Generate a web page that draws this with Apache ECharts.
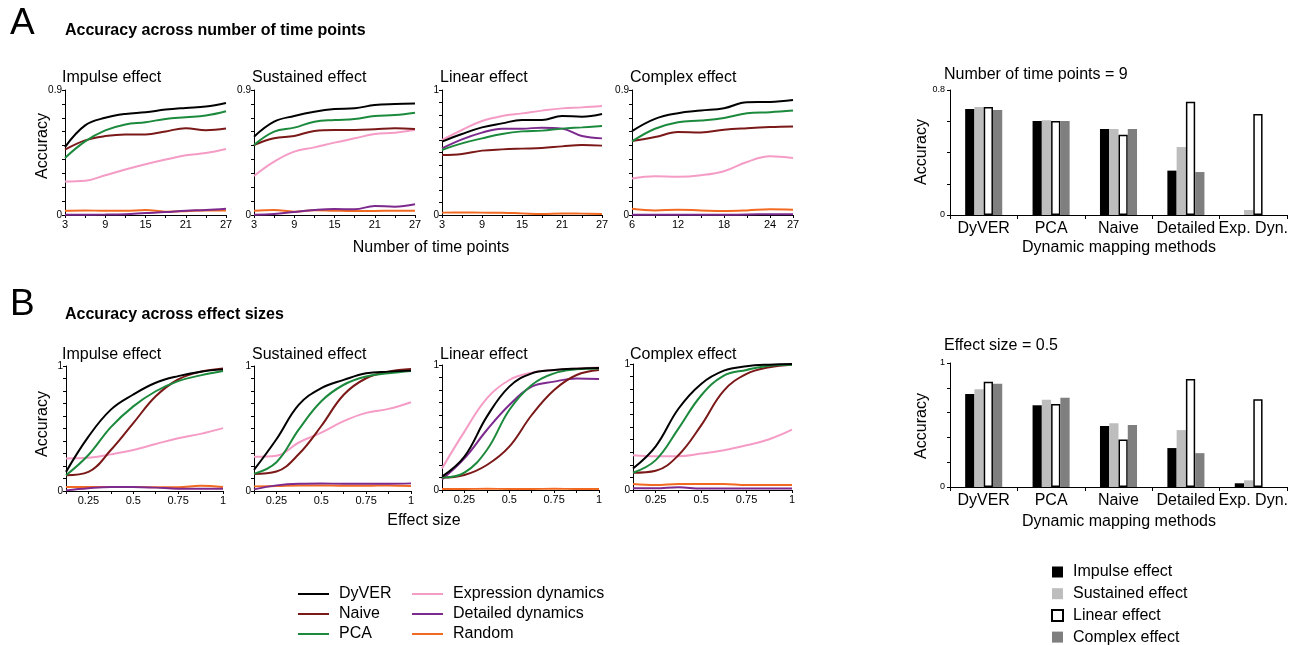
<!DOCTYPE html>
<html><head><meta charset="utf-8">
<script src="https://cdn.jsdelivr.net/npm/echarts@6/dist/echarts.min.js"></script>
<style>html,body{margin:0;padding:0;background:#fff}#c{width:1302px;height:645px}</style>
</head><body><div id="c"></div>
<script>
const FONT = 'Liberation Sans, Arial, Helvetica, sans-serif';
const methods = ['DyVER','Naive','PCA','Expression dynamics','Detailed dynamics','Random'];
const methodColors = ['#000000','#7b1818','#1c8a3d','#f59cc6','#7d2a8e','#f26a21'];

// x values
const tpX = [3,6,9,12,15,18,21,24,27];
const tpXComplex = [6,9,12,15,18,21,24,27];
const esX = [0.125,0.25,0.375,0.5,0.625,0.75,0.875,1];

// tick / label values
const tpTicks = [3,6,9,12,15,18,21,24,27];
const tpLabels = [3,9,15,21,27];
const tpComplexLabels = [6,12,18,24,27];
const esLabels = [0.25,0.5,0.75,1];

// Panel A: accuracy vs number of time points (rows: DyVER, Naive, PCA, Expr dyn, Detailed dyn, Random)
const tpImpulse = [
  [0.489,0.645,0.700,0.728,0.740,0.759,0.771,0.781,0.807],
  [0.470,0.537,0.568,0.580,0.580,0.602,0.625,0.611,0.623],
  [0.411,0.530,0.609,0.652,0.668,0.692,0.704,0.716,0.747],
  [0.241,0.246,0.286,0.327,0.365,0.399,0.430,0.446,0.475],
  [0.002,0.002,0.003,0.006,0.014,0.021,0.031,0.036,0.045],
  [0.031,0.033,0.030,0.030,0.036,0.024,0.027,0.033,0.033]
];
const tpSustained = [
  [0.564,0.672,0.713,0.744,0.763,0.768,0.792,0.799,0.802],
  [0.504,0.552,0.569,0.605,0.612,0.612,0.617,0.624,0.619],
  [0.504,0.600,0.629,0.672,0.684,0.691,0.713,0.720,0.737],
  [0.281,0.384,0.456,0.487,0.521,0.552,0.583,0.593,0.612],
  [0.002,0.007,0.022,0.036,0.043,0.041,0.065,0.060,0.077],
  [0.031,0.036,0.024,0.034,0.031,0.029,0.029,0.031,0.031]
];
const tpLinear = [
  [0.587,0.648,0.701,0.733,0.760,0.760,0.792,0.787,0.808],
  [0.480,0.488,0.515,0.525,0.531,0.536,0.549,0.560,0.555],
  [0.520,0.573,0.613,0.648,0.669,0.675,0.691,0.701,0.712],
  [0.600,0.680,0.752,0.792,0.813,0.835,0.853,0.861,0.872],
  [0.533,0.605,0.659,0.691,0.691,0.699,0.691,0.632,0.613],
  [0.019,0.020,0.019,0.018,0.013,0.008,0.013,0.011,0.008]
];
const tpComplex = [
  [0.604,0.692,0.733,0.752,0.769,0.812,0.814,0.828],
  [0.532,0.561,0.597,0.594,0.614,0.625,0.633,0.637],
  [0.530,0.621,0.668,0.680,0.699,0.733,0.740,0.752],
  [0.263,0.279,0.275,0.286,0.315,0.382,0.423,0.411],
  [0.001,0.001,0.001,0.001,0.001,0.004,0.005,0.005],
  [0.045,0.033,0.038,0.033,0.029,0.033,0.041,0.038]
];

// Panel B: accuracy vs effect size
const esImpulse = [
  [0.153,0.435,0.651,0.772,0.866,0.919,0.954,0.973],
  [0.126,0.153,0.328,0.543,0.758,0.892,0.954,0.981],
  [0.126,0.288,0.511,0.677,0.798,0.879,0.925,0.960],
  [0.261,0.266,0.293,0.328,0.376,0.422,0.457,0.503],
  [0.005,0.022,0.032,0.032,0.027,0.019,0.019,0.019],
  [0.032,0.032,0.032,0.032,0.030,0.030,0.043,0.032]
];
const esSustained = [
  [0.169,0.414,0.691,0.823,0.889,0.942,0.955,0.963],
  [0.137,0.156,0.296,0.520,0.770,0.902,0.955,0.976],
  [0.137,0.230,0.493,0.718,0.850,0.916,0.942,0.960],
  [0.274,0.282,0.388,0.467,0.559,0.625,0.657,0.710],
  [0.013,0.045,0.058,0.060,0.058,0.058,0.058,0.061],
  [0.037,0.040,0.045,0.045,0.042,0.042,0.045,0.040]
];
const esLinear = [
  [0.107,0.267,0.587,0.827,0.933,0.960,0.971,0.976],
  [0.099,0.120,0.200,0.347,0.600,0.800,0.920,0.960],
  [0.099,0.139,0.320,0.640,0.840,0.933,0.965,0.973],
  [0.173,0.467,0.733,0.880,0.939,0.960,0.973,0.981],
  [0.085,0.253,0.480,0.680,0.827,0.867,0.893,0.888],
  [0.008,0.008,0.010,0.008,0.008,0.010,0.008,0.008]
];
const esComplex = [
  [0.171,0.347,0.645,0.842,0.947,0.982,0.995,1.000],
  [0.137,0.153,0.276,0.513,0.789,0.921,0.974,0.995],
  [0.137,0.237,0.487,0.750,0.908,0.953,0.987,0.995],
  [0.276,0.268,0.268,0.289,0.316,0.355,0.403,0.479],
  [0.013,0.013,0.021,0.011,0.011,0.011,0.011,0.011],
  [0.047,0.039,0.047,0.047,0.047,0.039,0.039,0.039]
];

// Bar charts
const barMethods = ['DyVER','PCA','Naive','Detailed','Exp. Dyn.'];
const effects = ['Impulse effect','Sustained effect','Linear effect','Complex effect'];
const barTP_Impulse   = [0.678,0.602,0.550,0.284,0];
const barTP_Sustained = [0.691,0.606,0.550,0.435,0.032];
const barTP_Linear    = [0.691,0.602,0.514,0.725,0.646];
const barTP_Complex   = [0.672,0.602,0.550,0.275,0];
const barES_Impulse   = [0.751,0.659,0.492,0.314,0.030];
const barES_Sustained = [0.789,0.703,0.514,0.459,0.054];
const barES_Linear    = [0.849,0.670,0.384,0.870,0.708];
const barES_Complex   = [0.832,0.719,0.500,0.273,0];

const panelTitles = ['Impulse effect','Sustained effect','Linear effect','Complex effect'];

const linePanels = [
  {x: tpX, d: tpImpulse, xmin:3, xmax:27, ticks: tpTicks, labels: tpLabels, ymax:0.9, g:{left:65, top:90, width:161, height:125}},
  {x: tpX, d: tpSustained, xmin:3, xmax:27, ticks: tpTicks, labels: tpLabels, ymax:0.9, g:{left:254, top:90, width:161, height:125}},
  {x: tpX, d: tpLinear, xmin:3, xmax:27, ticks: tpTicks, labels: tpLabels, ymax:1, g:{left:442, top:90, width:160, height:125}},
  {x: tpXComplex, d: tpComplex, xmin:6, xmax:27, ticks: tpXComplex, labels: tpComplexLabels, ymax:0.9, g:{left:632, top:90, width:161, height:125}},
  {x: esX, d: esImpulse, xmin:0.125, xmax:1, ticks: esX, labels: esLabels, ymax:1, g:{left:66, top:366, width:157, height:125}},
  {x: esX, d: esSustained, xmin:0.125, xmax:1, ticks: esX, labels: esLabels, ymax:1, g:{left:254, top:366, width:157, height:125}},
  {x: esX, d: esLinear, xmin:0.125, xmax:1, ticks: esX, labels: esLabels, ymax:1, g:{left:442, top:365, width:157, height:125}},
  {x: esX, d: esComplex, xmin:0.125, xmax:1, ticks: esX, labels: esLabels, ymax:1, g:{left:633, top:364, width:159, height:126}}
];

const grids = [], xAxes = [], yAxes = [], series = [];
const axisLine = {show:true, lineStyle:{color:'#000', width:1}};
linePanels.forEach((p, i) => {
  grids.push(Object.assign({containLabel:false}, p.g));
  xAxes.push({
    type:'value', gridIndex:i, min:p.xmin, max:p.xmax,
    axisLine, splitLine:{show:false},
    axisTick:{show:true, length:3, customValues:p.ticks, lineStyle:{color:'#000'}},
    axisLabel:{customValues:p.labels, fontSize:11, color:'#000', fontFamily:FONT, margin:4}
  });
  const yt = []; for (let k=0; k<=Math.round(p.ymax*10); k++) yt.push(k/10);
  yAxes.push({
    type:'value', gridIndex:i, min:0, max:p.ymax,
    axisLine, splitLine:{show:false},
    axisTick:{show:true, length:3, customValues:yt, lineStyle:{color:'#000'}},
    axisLabel:{customValues:[0,p.ymax], fontSize:10, color:'#000', fontFamily:FONT, margin:3}
  });
  const order = [5,4,3,1,2,0];
  order.forEach(m => {
    series.push({
      type:'line', name:methods[m], xAxisIndex:i, yAxisIndex:i,
      data:p.x.map((xx,k)=>[xx, p.d[m][k]]),
      smooth:0.4, showSymbol:false, symbol:'none',
      lineStyle:{width:2, color:methodColors[m]}, itemStyle:{color:methodColors[m]},
      z: 2, silent:true, animation:false
    });
  });
});

const barEffectStyles = [
  {color:'#000000'},
  {color:'#bdbdbd'},
  {color:'#ffffff', borderColor:'#000000', borderWidth:1.5},
  {color:'#7f7f7f'}
];
const barPanels = [
  {vals:[barTP_Impulse,barTP_Sustained,barTP_Linear,barTP_Complex], ymax:0.8, g:{left:950, top:90, width:337, height:125}},
  {vals:[barES_Impulse,barES_Sustained,barES_Linear,barES_Complex], ymax:1, g:{left:950, top:363, width:337, height:124}}
];
barPanels.forEach((p, j) => {
  const gi = grids.length;
  grids.push(p.g);
  xAxes.push({
    type:'category', gridIndex:gi, data:barMethods,
    axisLine, axisTick:{show:true, length:4, lineStyle:{color:'#000'}},
    axisLabel:{fontSize:16, color:'#000', fontFamily:FONT, margin:6, interval:0}
  });
  yAxes.push({
    type:'value', gridIndex:gi, min:0, max:p.ymax, interval:0.2,
    axisLine, splitLine:{show:false},
    axisTick:{show:true, length:3, lineStyle:{color:'#000'}},
    axisLabel:{customValues:[0,p.ymax], fontSize:9, color:'#000', fontFamily:FONT, margin:5}
  });
  effects.forEach((e, k) => {
    series.push({
      type:'bar', name:e, xAxisIndex:gi, yAxisIndex:gi,
      data:p.vals[k], barGap:'0%', barCategoryGap:'45%',
      itemStyle:barEffectStyles[k], silent:true, animation:false
    });
  });
});

function txt(t, x, y, size, opts) {
  opts = opts || {};
  return {
    type:'text', x:x, y:y, rotation:opts.rot || 0, silent:true,
    style:{text:t, fill:'#000', font:(opts.bold?'bold ':'') + size + 'px ' + FONT,
      align:opts.align || 'left', verticalAlign:'middle'}
  };
}
const graphics = [
  txt('A', 10, 24, 37),
  txt('Accuracy across number of time points', 65, 31, 16, {bold:true}),
  txt('B', 10, 305, 37),
  txt('Accuracy across effect sizes', 65, 315, 16, {bold:true}),
  txt('Number of time points', 431, 248, 16, {align:'center'}),
  txt('Effect size', 424, 521, 16, {align:'center'}),
  txt('Accuracy', 43, 146, 16, {align:'center', rot:Math.PI/2}),
  txt('Accuracy', 43, 424, 16, {align:'center', rot:Math.PI/2}),
  txt('Accuracy', 922, 152, 16, {align:'center', rot:Math.PI/2}),
  txt('Accuracy', 922, 426, 16, {align:'center', rot:Math.PI/2}),
  txt('Dynamic mapping methods', 1119, 248, 16, {align:'center'}),
  txt('Dynamic mapping methods', 1119, 522, 16, {align:'center'}),
  txt('Number of time points = 9', 944, 75, 16),
  txt('Effect size = 0.5', 944, 346, 16)
];
const titleXs = [62, 252, 440, 630];
panelTitles.forEach((t, k) => {
  graphics.push(txt(t, titleXs[k], 78, 16));
  graphics.push(txt(t, titleXs[k], 355, 16));
});

const lineLegendBase = {
  orient:'vertical', icon:'rect', itemWidth:31, itemHeight:2, itemGap:4,
  padding:0, height:120,
  textStyle:{fontSize:16, color:'#000', fontFamily:FONT, padding:[0,0,0,5]},
  selectedMode:false
};
const option = {
  animation:false,
  backgroundColor:'#ffffff',
  grid:grids, xAxis:xAxes, yAxis:yAxes, series:series,
  graphic:graphics,
  legend:[
    Object.assign({}, lineLegendBase, {data:['DyVER','Naive','PCA'], left:298, top:586}),
    Object.assign({}, lineLegendBase, {data:['Expression dynamics','Detailed dynamics','Random'], left:412, top:586}),
    {orient:'vertical', icon:'rect', itemWidth:11, itemHeight:11, itemGap:5.7, left:1051, top:564,
     padding:0, height:150, data:effects, selectedMode:false,
     textStyle:{fontSize:16, color:'#000', fontFamily:FONT, padding:[0,0,0,5]}}
  ]
};
const chart = echarts.init(document.getElementById('c'), null, {renderer:'canvas'});
chart.setOption(option);
</script></body></html>
